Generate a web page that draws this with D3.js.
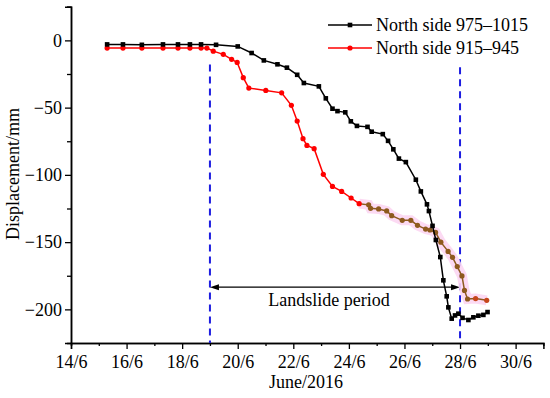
<!DOCTYPE html>
<html>
<head>
<meta charset="utf-8">
<script src="https://cdn.jsdelivr.net/npm/d3@7"></script>
<style>
  body { margin: 0; background: #fff; }
  text { font-family: "Liberation Serif", "Times New Roman", serif; }
</style>
</head>
<body>
<script>
// day of June 2016 (decimal) and displacement in mm
const northDays = [15.30, 15.87, 16.55, 17.31, 17.85, 18.28, 18.68, 19.22, 20.0, 20.50,
  20.94, 21.43, 21.77, 22.14, 22.38, 22.92, 23.17, 23.41, 23.59, 23.87,
  24.07, 24.29, 24.67, 24.82, 25.22, 25.41, 25.60, 25.80, 26.05, 26.41,
  26.59, 26.81, 26.88, 27.01, 27.13, 27.29, 27.40, 27.52, 27.58, 27.70,
  27.82, 27.94, 28.09, 28.30, 28.48, 28.66, 28.84, 28.99];
const northValues = [-3, -3, -3.3, -3, -3, -3, -3, -3.3, -4.5, -9.4,
  -14.9, -17.8, -20.3, -25.6, -31.7, -34.2, -43.1, -50.8, -52.6, -53.5,
  -60.2, -63.6, -64.3, -67.9, -69.7, -74.7, -81.0, -87.9, -90.5, -103.6,
  -112.3, -121.9, -126.9, -137.9, -148.4, -161.1, -178.4, -190.3, -198.5, -206.9,
  -204.5, -203.2, -206.3, -207.9, -205.9, -204.7, -204.1, -202];

const southDays = [15.30, 15.87, 16.55, 17.31, 17.85, 18.28, 18.68, 18.89, 19.12, 19.48,
  19.78, 19.98, 20.20, 20.40, 21.01, 21.58, 21.93, 22.14, 22.35, 22.49,
  22.75, 23.08, 23.41, 23.74, 24.08, 24.37, 24.71, 24.78, 25.07, 25.36,
  25.54, 25.92, 26.23, 26.47, 26.76, 26.92, 27.12, 27.31, 27.57, 27.73,
  27.90, 28.07, 28.16, 28.27, 28.56, 28.96];
const southValues = [-5.7, -5.7, -5.7, -5.7, -5.7, -5.7, -5.7, -5.7, -8.0, -10.4,
  -14.1, -16.4, -27.7, -35.5, -37.2, -39.0, -48.3, -60.0, -73.1, -78.1,
  -80.5, -99.6, -108.6, -112.3, -117.2, -121.4, -122.3, -124.9, -125.3, -126.8,
  -130.3, -133.8, -133.8, -137.5, -140.3, -141.0, -142.8, -150.0, -156.9, -161.3,
  -168.2, -175.1, -185.9, -192.3, -192.0, -193.3];

const seriesNames = ["North side 975\u20131015", "North side 915\u2013945"];
const xTicks = [14, 16, 18, 20, 22, 24, 26, 28, 30];
const yTicks = [0, -50, -100, -150, -200];
const landslideStart = 19.0;
const landslideEnd = 28.0;

const width = 550;
const height = 398;

const svg = d3.select("body").append("svg")
  .attr("width", width)
  .attr("height", height);

const x = d3.scaleLinear().domain([14, 31]).range([71, 543.4]);
const y = d3.scaleLinear().domain([-225, 25]).range([343, 6.75]);

const north = northDays.map((d, i) => ({ day: d, value: northValues[i] }));
const south = southDays.map((d, i) => ({ day: d, value: southValues[i] }));

const line = d3.line().x(d => x(d.day)).y(d => y(d.value));

// axes
const xAxis = svg.append("g").attr("transform", `translate(0,${y(-225)})`);
xAxis.call(d3.axisBottom(x).tickValues(d3.range(15, 31, 2)).tickSize(3).tickFormat(""));
xAxis.call(g => g.append("g").call(
  d3.axisBottom(x).tickValues(xTicks).tickSize(6).tickPadding(6).tickFormat(d => `${d}/6`)));

const yAxis = svg.append("g").attr("transform", `translate(${x(14)},0)`);
yAxis.call(d3.axisLeft(y).tickValues([25, -25, -75, -125, -175]).tickSize(4).tickFormat(""));
yAxis.call(g => g.append("g").call(
  d3.axisLeft(y).tickValues(yTicks).tickSize(6).tickPadding(3)));

svg.selectAll(".domain").attr("stroke", "#000").attr("stroke-width", 1.5);
svg.selectAll(".tick line").attr("stroke", "#000").attr("stroke-width", 1.3);
svg.selectAll(".tick text")
  .attr("fill", "#000")
  .style("font-family", "Liberation Serif")
  .style("font-size", "18px");

// axis titles
svg.append("text")
  .attr("transform", `translate(19,174) rotate(-90)`)
  .attr("text-anchor", "middle")
  .style("font-size", "18px")
  .text("Displacement/mm");

svg.append("text")
  .attr("x", 306)
  .attr("y", 388)
  .attr("text-anchor", "middle")
  .style("font-size", "18px")
  .text("June/2016");

// landslide boundaries
[[landslideStart, -18], [landslideEnd, -20]].forEach(([d, top]) => {
  svg.append("line")
    .attr("x1", x(d)).attr("x2", x(d))
    .attr("y1", y(top)).attr("y2", y(-225))
    .attr("stroke", "#1d1de0")
    .attr("stroke-width", 2)
    .attr("stroke-dasharray", "7,5");
});

// double arrow
const arrowY = y(-183.5);
svg.append("line")
  .attr("x1", x(landslideStart) + 6).attr("x2", x(landslideEnd) - 6)
  .attr("y1", arrowY).attr("y2", arrowY)
  .attr("stroke", "#000").attr("stroke-width", 1.2);
svg.append("path")
  .attr("d", `M${x(landslideStart)},${arrowY} l9,-3 v6 z M${x(landslideEnd)},${arrowY} l-9,-3 v6 z`)
  .attr("fill", "#000");
svg.append("text")
  .attr("x", 329)
  .attr("y", 306)
  .attr("text-anchor", "middle")
  .style("font-size", "18px")
  .text("Landslide period");

// red series, with the brownish tail seen in the picture
const tailStart = 25;
const tail = south.slice(tailStart);
svg.append("path")
  .attr("d", line(tail))
  .attr("fill", "none")
  .attr("stroke", "#fcd6f2")
  .attr("stroke-width", 10)
  .attr("stroke-linejoin", "miter")
  .attr("opacity", 0.9);

svg.append("path")
  .attr("d", line(south.slice(0, tailStart + 1)))
  .attr("fill", "none")
  .attr("stroke", "#ff0000")
  .attr("stroke-width", 1.5);
svg.append("path")
  .attr("d", line(tail))
  .attr("fill", "none")
  .attr("stroke", "#8e5a1e")
  .attr("stroke-width", 1.5);

svg.append("g").selectAll("circle")
  .data(south)
  .join("circle")
  .attr("cx", d => x(d.day))
  .attr("cy", d => y(d.value))
  .attr("r", 2.6)
  .attr("fill", (d, i) => (i > tailStart ? (i > 43 ? "#c6461c" : "#8e5a1e") : "#ff0000"));

// black series
svg.append("path")
  .attr("d", line(north))
  .attr("fill", "none")
  .attr("stroke", "#000")
  .attr("stroke-width", 1.5);

svg.append("g").selectAll("rect")
  .data(north)
  .join("rect")
  .attr("x", d => x(d.day) - 2.3)
  .attr("y", d => y(d.value) - 2.3)
  .attr("width", 4.6)
  .attr("height", 4.6)
  .attr("fill", "#000");

// legend
const legend = svg.append("g");
[["#000", "rect"], ["#ff0000", "circle"]].forEach(([color, shape], i) => {
  const ly = 25 + i * 23;
  legend.append("line")
    .attr("x1", 328).attr("x2", 372)
    .attr("y1", ly).attr("y2", ly)
    .attr("stroke", color).attr("stroke-width", 1.5);
  if (shape === "rect") {
    legend.append("rect")
      .attr("x", 347.7).attr("y", ly - 2.3)
      .attr("width", 4.6).attr("height", 4.6)
      .attr("fill", color);
  } else {
    legend.append("circle")
      .attr("cx", 350).attr("cy", ly).attr("r", 2.6)
      .attr("fill", color);
  }
  legend.append("text")
    .attr("x", 376)
    .attr("y", ly + 6)
    .style("font-size", "18px")
    .text(seriesNames[i]);
});
</script>
</body>
</html>
